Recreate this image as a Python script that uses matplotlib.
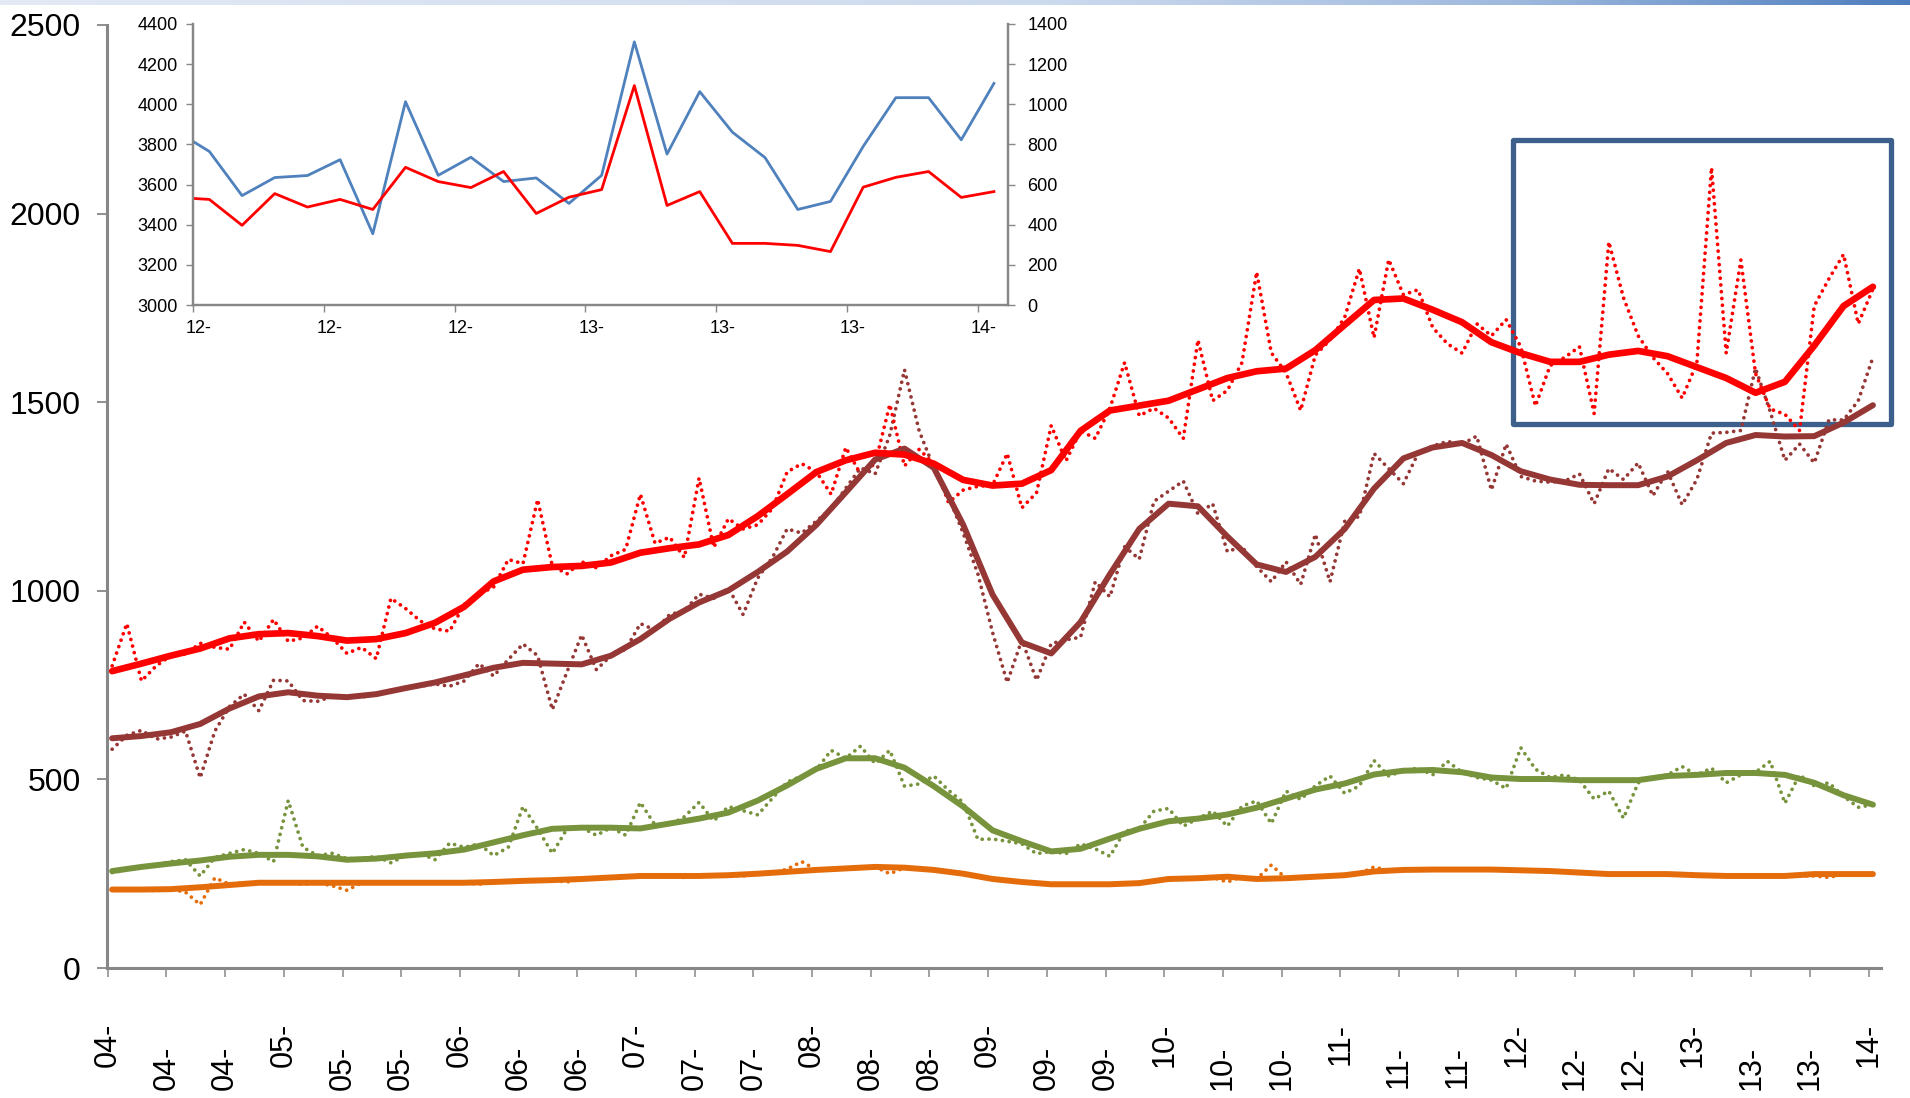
import matplotlib
matplotlib.use('Agg')
import matplotlib.pyplot as plt
import matplotlib.transforms as mtransforms
from matplotlib.colors import LinearSegmentedColormap
from matplotlib.patches import Rectangle
import numpy as np

# monthly series, Jan 2004 .. Jan 2014 (dotted = raw, solid = trend every 2 months)
red_raw = [801, 913, 761, 801, 828, 832, 861, 850, 845, 917,
           866, 924, 866, 875, 906, 875, 834, 850, 820, 980,
           953, 920, 899, 893, 964, 991, 1010, 1083, 1072, 1242,
           1066, 1045, 1077, 1061, 1093, 1110, 1256, 1126, 1142, 1088,
           1299, 1115, 1191, 1164, 1175, 1218, 1315, 1337, 1315, 1256,
           1380, 1310, 1337, 1494, 1331, 1375, 1337, 1234, 1267, 1277,
           1280, 1364, 1220, 1260, 1438, 1344, 1424, 1404, 1484, 1605,
           1464, 1484, 1458, 1404, 1665, 1504, 1531, 1605, 1845, 1631,
           1578, 1478, 1625, 1665, 1725, 1854, 1671, 1878, 1785, 1798,
           1698, 1655, 1630, 1708, 1676, 1719, 1647, 1490, 1597, 1619,
           1647, 1470, 1925, 1777, 1676, 1619, 1576, 1511, 1604, 2122,
           1630, 1877, 1576, 1482, 1468, 1425, 1755, 1827, 1892, 1708,
           1800]
brown_raw = [580, 617, 630, 607, 612, 628, 504, 628, 693, 726,
             682, 763, 761, 709, 707, 720, 720, 718, 726, 736,
             744, 747, 753, 747, 761, 807, 774, 818, 859, 828,
             685, 785, 883, 791, 828, 845, 913, 896, 937, 947,
             991, 980, 1007, 937, 1034, 1088, 1164, 1153, 1185, 1218,
             1272, 1326, 1310, 1413, 1586, 1424, 1326, 1250, 1153, 1045,
             890, 757, 870, 763, 860, 870, 877, 1024, 984, 1117,
             1084, 1237, 1264, 1291, 1204, 1231, 1104, 1117, 1064, 1024,
             1077, 1017, 1150, 1024, 1184, 1197, 1364, 1324, 1284, 1364,
             1384, 1396, 1389, 1410, 1267, 1389, 1303, 1291, 1288, 1291,
             1310, 1231, 1324, 1295, 1339, 1252, 1317, 1228, 1295, 1418,
             1420, 1425, 1590, 1475, 1346, 1389, 1339, 1453, 1453, 1504,
             1619]
green_raw = [253, 260, 268, 274, 282, 287, 244, 293, 304, 314,
             304, 282, 444, 320, 298, 304, 290, 290, 296, 279,
             298, 304, 287, 331, 320, 329, 298, 320, 428, 369,
             304, 369, 372, 352, 372, 352, 439, 379, 379, 401,
             439, 390, 428, 417, 406, 450, 493, 509, 526, 577,
             556, 588, 542, 577, 482, 488, 509, 471, 439, 341,
             342, 336, 329, 303, 309, 303, 329, 316, 296, 363,
             369, 416, 423, 376, 396, 416, 376, 429, 443, 383,
             469, 447, 483, 509, 463, 483, 550, 509, 523, 530,
             512, 548, 519, 505, 498, 476, 584, 527, 505, 512,
             498, 448, 469, 397, 491, 505, 512, 534, 512, 530,
             491, 512, 519, 548, 437, 512, 483, 491, 455, 426,
             433]
orange_raw = [208, 208, 208, 205, 209, 201, 168, 239, 222, 226,
              226, 224, 226, 222, 226, 218, 206, 226, 226, 226,
              226, 228, 226, 226, 226, 222, 228, 231, 233, 231,
              233, 228, 236, 238, 240, 242, 244, 244, 244, 240,
              244, 246, 246, 244, 250, 252, 262, 282, 260, 262,
              264, 268, 268, 250, 266, 264, 260, 256, 250, 244,
              236, 230, 228, 224, 222, 222, 222, 222, 222, 224,
              225, 230, 236, 236, 238, 240, 228, 242, 236, 273,
              238, 240, 242, 244, 246, 250, 268, 258, 260, 260,
              261, 261, 261, 262, 261, 258, 259, 257, 257, 256,
              255, 253, 251, 249, 249, 249, 249, 249, 248, 246,
              246, 244, 245, 244, 244, 244, 244, 240, 249, 249,
              249]

red_trend = [787, 807, 828, 847, 874, 885, 888, 880, 868, 872,
             888, 915, 958, 1025, 1056, 1063, 1066, 1075, 1101, 1113,
             1123, 1148, 1198, 1256, 1315, 1346, 1366, 1361, 1337, 1294,
             1279, 1284, 1320, 1424, 1478, 1491, 1504, 1534, 1564, 1582,
             1589, 1638, 1705, 1771, 1775, 1745, 1712, 1659, 1630, 1607,
             1607, 1626, 1636, 1622, 1593, 1564, 1525, 1554, 1650, 1755,
             1806]
brown_trend = [609, 615, 625, 647, 688, 720, 731, 722, 718, 726,
               742, 757, 776, 796, 809, 807, 805, 828, 872, 926,
               969, 1001, 1050, 1104, 1175, 1261, 1348, 1377, 1326, 1175,
               990, 863, 834, 917, 1044, 1164, 1231, 1224, 1144, 1070,
               1050, 1090, 1164, 1271, 1351, 1380, 1392, 1360, 1317, 1295,
               1281, 1280, 1280, 1303, 1346, 1392, 1413, 1409, 1410, 1446,
               1492]
green_trend = [257, 268, 277, 285, 295, 300, 300, 296, 287, 290,
               298, 304, 314, 333, 352, 369, 372, 372, 370, 383,
               396, 412, 444, 484, 528, 556, 556, 531, 482, 428,
               365, 336, 309, 316, 343, 369, 389, 396, 407, 425,
               449, 473, 489, 513, 523, 525, 519, 505, 501, 501,
               498, 498, 498, 509, 512, 517, 517, 512, 491, 458,
               433]
orange_trend = [208, 208, 209, 214, 220, 226, 226, 226, 226, 226,
                226, 226, 226, 228, 231, 233, 236, 240, 244, 244,
                244, 246, 250, 255, 260, 264, 268, 266, 260, 250,
                236, 228, 222, 222, 222, 225, 236, 238, 242, 236,
                238, 242, 246, 256, 260, 261, 261, 261, 259, 257,
                253, 249, 249, 249, 246, 244, 244, 244, 249, 249,
                249]

years = ['04', '05', '06', '07', '08', '09', '10', '11', '12', '13']
tick_labels = [y + '-' for y in years for _ in range(3)] + ['14-']

# inset: 2012 .. early 2014 (blue on left axis, red on right axis)
inset_months = np.r_[0, np.arange(25) + 0.5]
inset_blue = [3815, 3765, 3545, 3635, 3645, 3724, 3355, 4013, 3646, 3736,
              3615, 3633, 3506, 3646, 4311, 3752, 4063, 3861, 3734, 3476,
              3516, 3790, 4033, 4033, 3823, 4104]
inset_red = [531, 526, 397, 555, 488, 526, 476, 686, 615, 585,
             665, 456, 537, 575, 1093, 496, 565, 307, 307, 297,
             266, 587, 636, 665, 536, 565]
inset_labels = ['12-', '12-', '12-', '13-', '13-', '13-', '14-']

months = np.arange(len(red_raw)) + 0.3
trend_months = np.arange(0, 121, 2) + 0.3

FONT = ['Liberation Sans', 'DejaVu Sans']
AXIS_GREY = '#878787'

fig = plt.figure(figsize=(19.1, 10.98), dpi=100)
fig.patch.set_facecolor('white')

# thin gradient band along the top edge
band = fig.add_axes([0, 1 - 5 / 1098, 1, 5 / 1098])
band_cmap = LinearSegmentedColormap.from_list(
    'band', [(0, '#E3E9F5'), (0.55, '#CCDAEE'), (0.8, '#9DB8DD'), (1, '#4D7DBD')])
band.imshow(np.linspace(0, 1, 512)[None, :], aspect='auto', cmap=band_cmap)
band.axis('off')

ax = fig.add_axes([107 / 1910, 1 - 968 / 1098, (1881 - 107) / 1910, (968 - 25) / 1098])

series = [
    (red_raw, red_trend, '#FF0000', 4.8),
    (brown_raw, brown_trend, '#953735', 4.3),
    (green_raw, green_trend, '#77933C', 4.3),
    (orange_raw, orange_trend, '#E46C0A', 4.3),
]
for raw, trend, col, lw in series[::-1]:
    ax.plot(months, raw, color=col, lw=2.7, ls=(0, (0.01, 1.8)),
            dash_capstyle='round', zorder=3)
for raw, trend, col, lw in series[::-1]:
    ax.plot(trend_months, trend, color=col, lw=lw, solid_capstyle='round',
            solid_joinstyle='round', zorder=4)

# highlight box around the period shown in the inset
ax.add_patch(Rectangle((95.8, 1442), 25.7, 754, fill=False, ec='#3D5F8C',
                       lw=3.8, joinstyle='round', clip_on=False, zorder=2))

ax.set_xlim(-0.05, 120.85)
ax.set_ylim(0, 2500)
ax.set_yticks(np.arange(0, 2501, 500))
ax.set_xticks(np.arange(0, 121, 4))
ax.set_xticklabels(tick_labels, rotation=90)
for s in ['top', 'right']:
    ax.spines[s].set_visible(False)
for s in ['left', 'bottom']:
    ax.spines[s].set_color(AXIS_GREY)
    ax.spines[s].set_linewidth(2.2)
ax.tick_params(axis='y', direction='out', length=7, width=1.3, color=AXIS_GREY,
               pad=12, labelsize=23)
ax.tick_params(axis='x', direction='out', length=6.5, width=1.1, color=AXIS_GREY,
               pad=33, labelsize=22)
for lab in ax.get_yticklabels():
    lab.set_fontfamily(FONT)
shift = mtransforms.ScaledTranslation(0, -23 / 100, fig.dpi_scale_trans)
for i, lab in enumerate(ax.get_xticklabels()):
    lab.set_fontfamily(FONT)
    if i % 3 != 0:
        lab.set_transform(lab.get_transform() + shift)

# inset chart
ins = fig.add_axes([193 / 1910, 1 - 305 / 1098, (1008 - 193) / 1910, (305 - 24) / 1098])
ins.set_facecolor('white')
ins.plot(inset_months, inset_blue, color='#4F81BD', lw=2.0)
ins.set_xlim(0, 24.93)
ins.set_ylim(3000, 4400)
ins.set_yticks(np.arange(3000, 4401, 200))
ins.set_xticks(np.arange(0, 25, 4))
ins.set_xticklabels(inset_labels)
ins2 = ins.twinx()
ins2.plot(inset_months, inset_red, color='#FF0000', lw=2.0)
ins2.set_ylim(0, 1400)
ins2.set_yticks(np.arange(0, 1401, 200))
for a in (ins, ins2):
    a.spines['top'].set_visible(False)
    for s in ['left', 'right', 'bottom']:
        a.spines[s].set_color(AXIS_GREY)
        a.spines[s].set_linewidth(1.6)
    a.tick_params(direction='out', length=5, width=1.0, color=AXIS_GREY,
                  labelsize=13, pad=6)
    for lab in a.get_yticklabels() + a.get_xticklabels():
        lab.set_fontfamily(FONT)
ins2.tick_params(axis='y', pad=9)
xshift = mtransforms.ScaledTranslation(6 / 100, 0, fig.dpi_scale_trans)
for lab in ins.get_xticklabels():
    lab.set_transform(lab.get_transform() + xshift)

fig.savefig('out.png', dpi=100, facecolor='white')
